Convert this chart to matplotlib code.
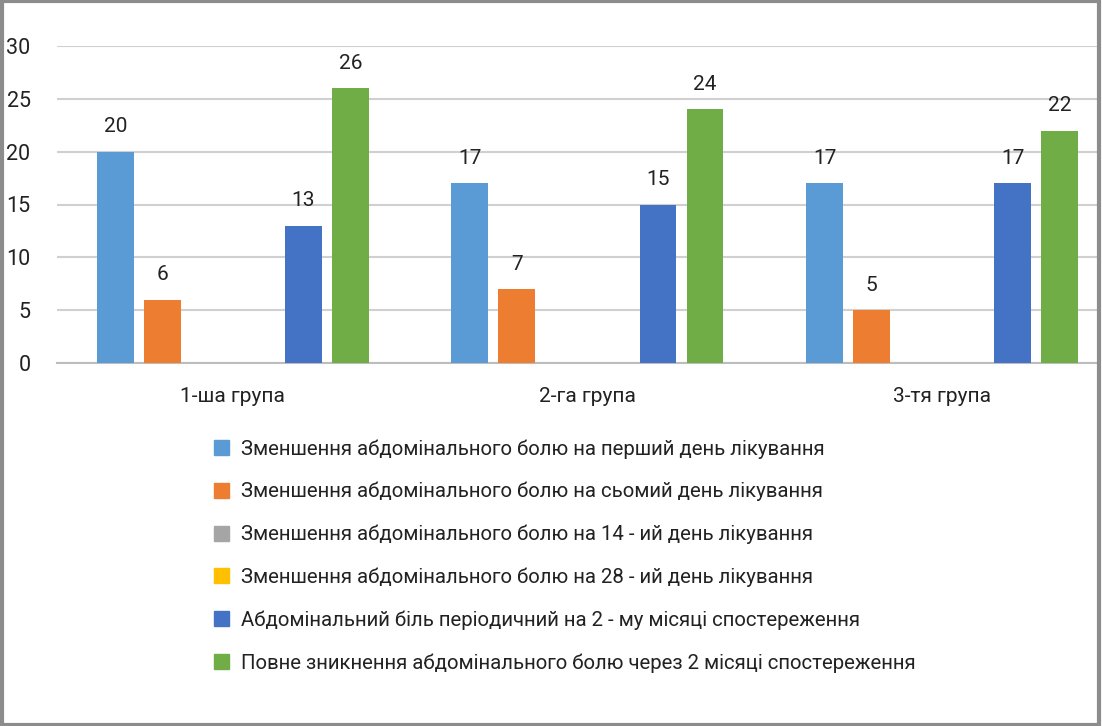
import numpy as np
from matplotlib import pyplot as plt
from matplotlib.patches import Rectangle

groups = ["1-ша група", "2-га група", "3-тя група"]
series = [
    "Зменшення абдомінального болю на перший день лікування",
    "Зменшення абдомінального болю на сьомий день лікування",
    "Зменшення абдомінального болю на 14 - ий день лікування",
    "Зменшення абдомінального болю на 28 - ий день лікування",
    "Абдомінальний біль періодичний на 2 - му місяці спостереження",
    "Повне зникнення абдомінального болю через 2 місяці спостереження",
]
first_day = [20, 17, 17]
seventh_day = [6, 7, 5]
day_14 = [0, 0, 0]
day_28 = [0, 0, 0]
periodic_2m = [13, 15, 17]
gone_2m = [26, 24, 22]
values = [first_day, seventh_day, day_14, day_28, periodic_2m, gone_2m]
colors = ["#5b9bd5", "#ed7d31", "#a5a5a5", "#ffc000", "#4472c4", "#70ad47"]

plt.rcParams["font.family"] = ["Roboto", "DejaVu Sans"]

fig = plt.figure(figsize=(11.02, 7.26), dpi=100)
ax = fig.add_axes([57 / 1102, 1 - 363 / 726, 1040 / 1102, 317 / 726])

x = np.arange(len(groups))
step = 0.1326
width = 0.104
handles = []
for i, (vals, col, name) in enumerate(zip(values, colors, series)):
    pos = x + (i - 2.5) * step
    ax.bar(pos, vals, width, color=col, label=name, zorder=3)
    handles.append(Rectangle((0, 0), 1, 1, color=col))
    for p, v in zip(pos, vals):
        if v > 0:
            ax.text(p, v + 1.45, str(v), ha="center", va="bottom",
                    fontsize=15, color="#222222")

ax.set_xlim(-0.496, 2.437)
ax.set_ylim(0, 30)
ax.set_yticks(range(0, 31, 5))
ax.set_xticks(x)
ax.set_xticklabels(groups, fontsize=15, color="#222222")
ax.tick_params(axis="y", labelsize=15.5, colors="#222222", length=0, pad=19)
ax.tick_params(axis="x", length=0, pad=17)
ax.grid(axis="y", color="#d0d0d0", linewidth=1.5, zorder=0)
for s in ["top", "right", "left"]:
    ax.spines[s].set_visible(False)
ax.spines["bottom"].set_color("#bdbdbd")
ax.spines["bottom"].set_linewidth(1.5)

fig.legend(handles, series, loc="upper left",
           bbox_to_anchor=(206 / 1102, 1 - 431 / 726), frameon=False,
           fontsize=14.7, handlelength=0.75, handleheight=0.75,
           handletextpad=0.55, labelspacing=1.14, borderaxespad=0,
           labelcolor="#222222")

# gray frame round the picture
fig.patches.append(Rectangle((0.0015, 0.002), 0.996, 0.996, transform=fig.transFigure,
                             fill=False, edgecolor="#8c8c8c", linewidth=3))

fig.savefig("out.png", dpi=100)
